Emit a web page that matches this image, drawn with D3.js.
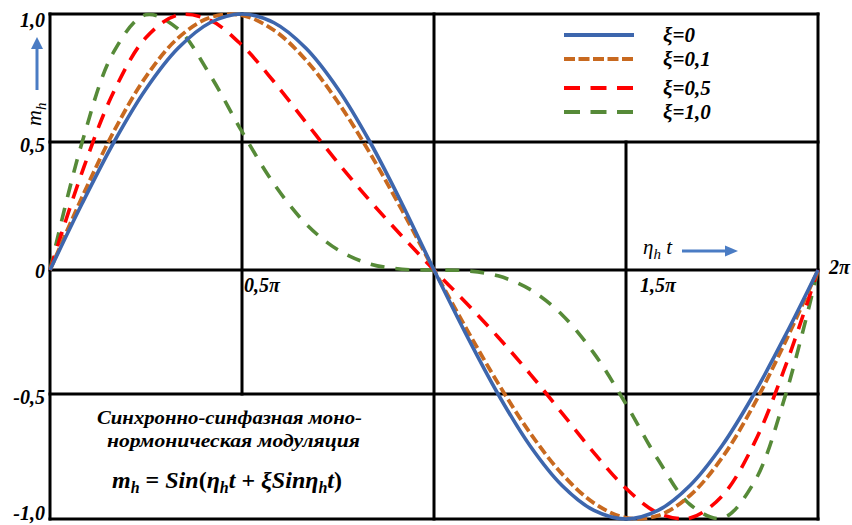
<!DOCTYPE html>
<html><head><meta charset="utf-8">
<script src="https://cdn.jsdelivr.net/npm/d3@7"></script>
<style>body{margin:0;background:#fff}svg{display:block}</style>
</head><body><svg id="c" width="852" height="525"></svg>
<script>
// angle eta_h*t in degrees
const tDeg = [0,15,30,45,60,75,90,105,120,135,150,165,180,195,210,225,240,255,270,285,300,315,330,345,360];
const xi0  = [0,0.2588,0.5,0.7071,0.866,0.9659,1,0.9659,0.866,0.7071,0.5,0.2588,0,-0.2588,-0.5,-0.7071,-0.866,-0.9659,-1,-0.9659,-0.866,-0.7071,-0.5,-0.2588,0];
const xi01 = [0,0.2837,0.5427,0.7553,0.906,0.9864,0.995,0.9365,0.8196,0.6554,0.4561,0.2337,0,-0.2337,-0.4561,-0.6554,-0.8196,-0.9365,-0.995,-0.9864,-0.906,-0.7553,-0.5427,-0.2837,0];
const xi05 = [0,0.3813,0.6987,0.9082,0.9959,0.9757,0.8776,0.7353,0.5763,0.4185,0.2703,0.1321,0,-0.1321,-0.2703,-0.4185,-0.5763,-0.7353,-0.8776,-0.9757,-0.9959,-0.9082,-0.6987,-0.3813,0];
const xi10 = [0,0.4974,0.854,0.9969,0.9419,0.7622,0.5403,0.3364,0.1802,0.0783,0.0236,0.003,0,-0.003,-0.0236,-0.0783,-0.1802,-0.3364,-0.5403,-0.7622,-0.9419,-0.9969,-0.854,-0.4974,0];
const seriesNames = ["ξ=0","ξ=0,1","ξ=0,5","ξ=1,0"];
const yTickVals = [1,0.5,0,-0.5,-1];
const yTickLabels = ["1,0","0,5","0","-0,5","-1,0"];
const xTickVals = [90,270,360];
const xTickLabels = ["0,5π","1,5π","2π"];

const FF = "'Times New Roman', Times, 'Liberation Serif', Tinos, 'DejaVu Serif', 'Noto Serif', serif";
const svg = d3.select("#c");
const x = d3.scaleLinear().domain([0,360]).range([50,818]);
const y = d3.scaleLinear().domain([-1,-0.5,0,0.5,1]).range([519,394,270,142,14]);

const styles = [
  {color:"#3d66ad", dash:null, w:3.6},
  {color:"#c8691f", dash:"10,4", w:3.8},
  {color:"#ff0000", dash:"15,10", w:3.6},
  {color:"#568a38", dash:"14,11", w:3.6}
];

// grid
const g = svg.append("g").attr("stroke","#000").attr("stroke-width",3).attr("stroke-linecap","square");
yTickVals.forEach(v=>g.append("line").attr("x1",x(0)).attr("x2",x(360)).attr("y1",y(v)).attr("y2",y(v)));
const vLines = [[0,-1,1],[90,-0.5,1],[180,-1,1],[270,-1,0.5],[360,-1,1]];
vLines.forEach(d=>g.append("line").attr("x1",x(d[0])).attr("x2",x(d[0])).attr("y1",y(d[1])).attr("y2",y(d[2])));

// curves
const all = [xi0, xi01, xi05, xi10];
const line = d3.line().x((d,i)=>x(tDeg[i])).y(d=>y(d)).curve(d3.curveCatmullRom.alpha(0.5));
[3,2,1,0].forEach(k=>{
  svg.append("path").datum(all[k]).attr("d",line).attr("fill","none")
    .attr("stroke",styles[k].color).attr("stroke-width",styles[k].w)
    .attr("stroke-dasharray",styles[k].dash);
});

function T(sel){ return sel.style("font-family",FF); }
// y tick labels
const yOff = [13,10,8,10,1];
yTickVals.forEach((v,i)=>T(svg.append("text")).attr("x",45).attr("y",y(v)+yOff[i]).attr("text-anchor","end")
  .attr("font-weight","bold").attr("font-style","italic").attr("font-size",20).text(yTickLabels[i]));
// x tick labels
const xl = [[x(xTickVals[0])+2,292],[x(xTickVals[1])+14,292],[x(xTickVals[2])+11,274]];
xTickVals.forEach((v,i)=>T(svg.append("text")).attr("x",xl[i][0]).attr("y",xl[i][1])
  .attr("font-weight","bold").attr("font-style","italic").attr("font-size",20).text(xTickLabels[i]));

// legend
const ly = [35,59,88,112];
styles.forEach((s,i)=>{
  svg.append("line").attr("x1",564).attr("x2",634).attr("y1",ly[i]).attr("y2",ly[i])
    .attr("stroke",s.color).attr("stroke-width",4).attr("stroke-dasharray",i===0?null:(i===1?"11,3.5":"16,10.5"));
  T(svg.append("text")).attr("x",663).attr("y",ly[i]+7).attr("font-weight","bold").attr("font-style","italic")
    .attr("font-size",21).text(seriesNames[i]);
});

// axis labels with arrows
const blue = "#4a7cc4";
svg.append("line").attr("x1",37).attr("x2",37).attr("y1",90).attr("y2",48).attr("stroke",blue).attr("stroke-width",3);
svg.append("path").attr("d","M31,49 L37,37 L43,49 Z").attr("fill",blue);
const mt = T(svg.append("text")).attr("transform","translate(41,126) rotate(-90)").attr("font-style","italic").attr("font-size",22);
mt.append("tspan").text("m");
mt.append("tspan").attr("dy",5).attr("font-size",15).text("h");

const et = T(svg.append("text")).attr("x",643).attr("y",254).attr("font-style","italic").attr("font-size",21);
et.append("tspan").text("η");
et.append("tspan").attr("dy",5).attr("font-size",15).text("h");
et.append("tspan").attr("dy",-5).text(" t");
svg.append("line").attr("x1",682).attr("x2",726).attr("y1",251).attr("y2",251).attr("stroke",blue).attr("stroke-width",3);
svg.append("path").attr("d","M725,245.5 L738,251 L725,256.5 Z").attr("fill",blue);

// caption
function cap(t,xx,yy,len){ T(svg.append("text")).attr("x",xx).attr("y",yy)
  .attr("font-weight","bold").attr("font-style","italic").attr("font-size",19)
  .attr("textLength",len).attr("lengthAdjust","spacingAndGlyphs").text(t); }
cap("Синхронно-синфазная моно-",97,424,265);
cap("нормоническая модуляция",107,447,253);
const f = T(svg.append("text")).attr("x",227).attr("y",488).attr("text-anchor","middle").attr("font-weight","bold").attr("font-size",24);
f.append("tspan").attr("font-style","italic").text("m");
f.append("tspan").attr("font-style","italic").attr("dy",5).attr("font-size",16).text("h");
f.append("tspan").attr("dy",-5).text(" = ");
f.append("tspan").attr("font-style","italic").text("Sin");
f.append("tspan").text("(");
f.append("tspan").attr("font-style","italic").text("η");
f.append("tspan").attr("font-style","italic").attr("dy",5).attr("font-size",16).text("h");
f.append("tspan").attr("font-style","italic").attr("dy",-5).text("t");
f.append("tspan").text(" + ");
f.append("tspan").attr("font-style","italic").text("ξSinη");
f.append("tspan").attr("font-style","italic").attr("dy",5).attr("font-size",16).text("h");
f.append("tspan").attr("font-style","italic").attr("dy",-5).text("t");
f.append("tspan").text(")");
</script></body></html>
